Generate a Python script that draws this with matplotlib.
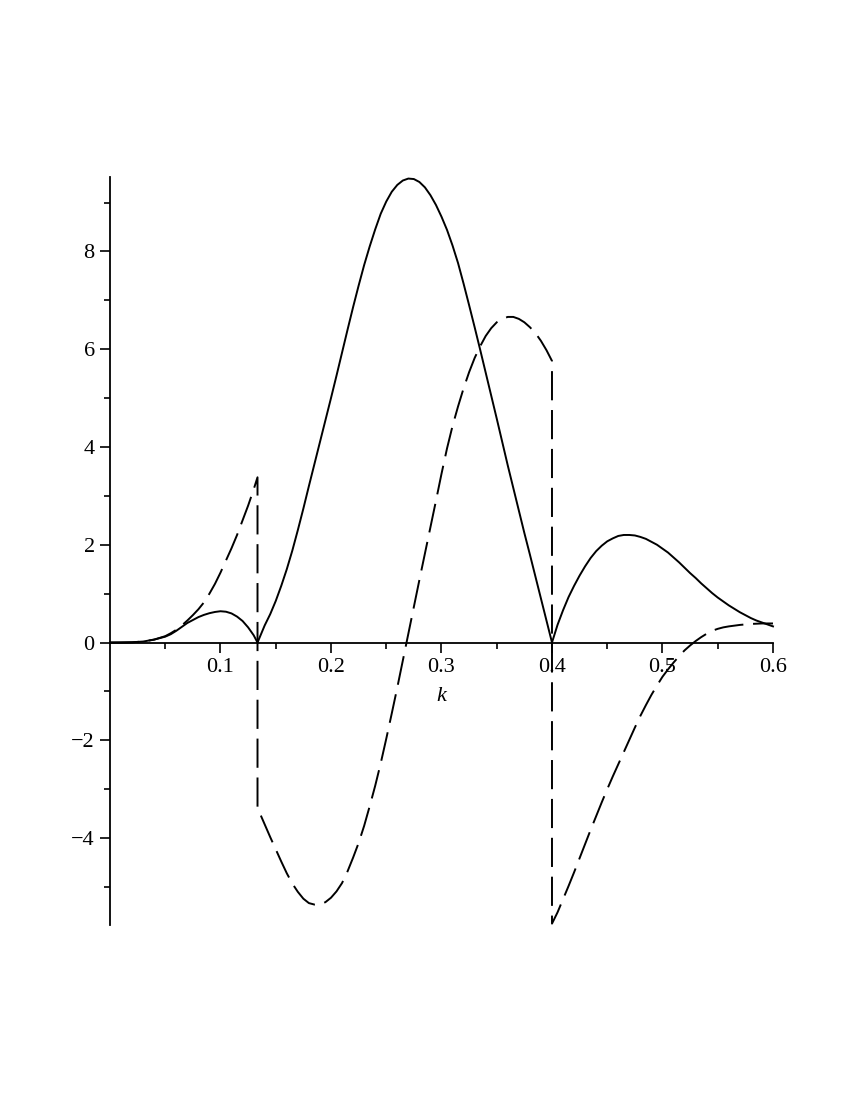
import matplotlib
matplotlib.use("Agg")
import matplotlib.pyplot as plt

plt.rcParams['font.family'] = ['Liberation Serif', 'DejaVu Serif']

# solid curve
k_solid = [0, 0.01, 0.02, 0.03, 0.04, 0.05, 0.055, 0.06, 0.065, 0.07, 0.075, 0.08, 0.085,
           0.09, 0.095, 0.10, 0.105, 0.11, 0.115, 0.12, 0.125, 0.13, 0.1335,
           0.135, 0.14, 0.145, 0.15, 0.155, 0.16, 0.165, 0.17, 0.175, 0.18, 0.185, 0.19,
           0.195, 0.20, 0.205, 0.21, 0.215, 0.22, 0.225, 0.23, 0.235, 0.24, 0.245, 0.25,
           0.255, 0.26, 0.265, 0.27, 0.275, 0.28, 0.285, 0.29, 0.295, 0.30, 0.305, 0.31,
           0.315, 0.32, 0.325, 0.33, 0.335, 0.34, 0.345, 0.35, 0.355, 0.36, 0.365, 0.37,
           0.375, 0.38, 0.385, 0.39, 0.395, 0.40,
           0.405, 0.41, 0.415, 0.42, 0.425, 0.43, 0.435, 0.44, 0.445, 0.45, 0.455, 0.46,
           0.465, 0.47, 0.475, 0.48, 0.485, 0.49, 0.495, 0.50, 0.505, 0.51, 0.515, 0.52,
           0.525, 0.53, 0.535, 0.54, 0.545, 0.55, 0.555, 0.56, 0.565, 0.57, 0.575, 0.58,
           0.585, 0.59, 0.595, 0.60]
v_solid = [0, 0.0, 0.005, 0.02, 0.06, 0.12, 0.17, 0.24, 0.32, 0.40, 0.46, 0.52, 0.565,
           0.60, 0.625, 0.64, 0.63, 0.595, 0.53, 0.44, 0.31, 0.15, 0,
           0.08, 0.35, 0.58, 0.85, 1.16, 1.5, 1.88, 2.3, 2.74, 3.2, 3.65, 4.1,
           4.55, 5.0, 5.46, 5.93, 6.4, 6.86, 7.3, 7.72, 8.1, 8.45, 8.77, 9.02,
           9.22, 9.36, 9.45, 9.49, 9.48, 9.42, 9.31, 9.15, 8.95, 8.71, 8.44, 8.12,
           7.76, 7.34, 6.9, 6.45, 5.99, 5.52, 5.05, 4.58, 4.1, 3.62, 3.16, 2.7,
           2.24, 1.8, 1.35, 0.9, 0.45, 0,
           0.36, 0.66, 0.93, 1.16, 1.37, 1.56, 1.73, 1.87, 1.98, 2.07, 2.13, 2.18,
           2.2, 2.2, 2.19, 2.16, 2.12, 2.06, 2.0, 1.92, 1.84, 1.74, 1.64, 1.53,
           1.42, 1.32, 1.21, 1.11, 1.01, 0.92, 0.84, 0.76, 0.69, 0.62, 0.56, 0.5,
           0.45, 0.41, 0.37, 0.33]

# dashed curve, jumps at k=0.1335 and k=0.4
k_dash = [0, 0.02, 0.03, 0.04, 0.05, 0.055, 0.06, 0.065, 0.07, 0.075, 0.08, 0.085, 0.09,
          0.095, 0.10, 0.105, 0.11, 0.115, 0.12, 0.125, 0.13, 0.1335,
          0.1335, 0.135, 0.14, 0.145, 0.15, 0.155, 0.16, 0.165, 0.17, 0.175, 0.18, 0.185,
          0.19, 0.195, 0.20, 0.205, 0.21, 0.215, 0.22, 0.225, 0.23, 0.235, 0.24, 0.245,
          0.25, 0.255, 0.26, 0.265, 0.27, 0.275, 0.28, 0.285, 0.29, 0.295, 0.30, 0.305,
          0.31, 0.315, 0.32, 0.325, 0.33, 0.335, 0.34, 0.345, 0.35, 0.355, 0.36, 0.365,
          0.37, 0.375, 0.38, 0.385, 0.39, 0.395, 0.40,
          0.40, 0.405, 0.41, 0.415, 0.42, 0.425, 0.43, 0.435, 0.44, 0.445, 0.45, 0.455,
          0.46, 0.465, 0.47, 0.475, 0.48, 0.485, 0.49, 0.495, 0.50, 0.505, 0.51, 0.515,
          0.52, 0.525, 0.53, 0.535, 0.54, 0.545, 0.55, 0.555, 0.56, 0.57, 0.58, 0.59, 0.60]
v_dash = [0, 0.005, 0.02, 0.06, 0.13, 0.19, 0.26, 0.35, 0.45, 0.56, 0.68, 0.82, 1.0,
          1.2, 1.43, 1.68, 1.93, 2.2, 2.5, 2.8, 3.13, 3.38,
          -3.4, -3.46, -3.72, -3.98, -4.23, -4.48, -4.72, -4.93, -5.1, -5.24, -5.33, -5.36,
          -5.36, -5.31, -5.22, -5.09, -4.92, -4.68, -4.4, -4.1, -3.75, -3.35, -2.93, -2.47,
          -1.97, -1.45, -0.92, -0.37, 0.18, 0.73, 1.28, 1.82, 2.36, 2.9, 3.45, 3.97,
          4.43, 4.83, 5.2, 5.53, 5.82, 6.06, 6.27, 6.43, 6.55, 6.62, 6.66, 6.66,
          6.62, 6.55, 6.45, 6.33, 6.17, 5.98, 5.76,
          -5.75, -5.52, -5.25, -4.98, -4.7, -4.41, -4.12, -3.83, -3.55, -3.27, -3.0, -2.74,
          -2.49, -2.24, -1.99, -1.74, -1.5, -1.28, -1.07, -0.88, -0.7, -0.55, -0.41, -0.28,
          -0.16, -0.06, 0.03, 0.11, 0.18, 0.24, 0.28, 0.31, 0.33, 0.36, 0.38, 0.39, 0.39]

xticks = [0.1, 0.2, 0.3, 0.4, 0.5, 0.6]
yticks = [-4, -2, 0, 2, 4, 6, 8]
ylabels = ['\u22124', '\u22122', '0', '2', '4', '6', '8']

fig = plt.figure(figsize=(8.5, 11), dpi=100)
ax = fig.add_axes([0.1294, 0.159, 0.78, 0.68])

ax.plot(k_solid, v_solid, color='black', lw=1.4, clip_on=False)
ax.plot(k_dash, v_dash, color='black', lw=1.4, dashes=(15, 5), clip_on=False)

ax.set_xlim(0, 0.6)
ax.set_ylim(-5.78, 9.52)

for s in ['top', 'right']:
    ax.spines[s].set_visible(False)
ax.spines['left'].set_position(('data', 0))
ax.spines['bottom'].set_position(('data', 0))
ax.spines['left'].set_linewidth(1.3)
ax.spines['bottom'].set_linewidth(1.3)

ax.set_xticks(xticks)
ax.set_xticklabels([str(t) for t in xticks])
ax.set_xticks([0.05, 0.15, 0.25, 0.35, 0.45, 0.55], minor=True)
ax.set_yticks(yticks)
ax.set_yticklabels(ylabels)
ax.set_yticks([-5, -3, -1, 1, 3, 5, 7, 9], minor=True)
ax.tick_params(which='major', direction='out', length=7, width=1.2, labelsize=16, pad=4)
ax.tick_params(which='minor', direction='out', length=4, width=1.2)

ax.set_xlabel('k', fontstyle='italic', fontsize=16)
ax.xaxis.set_label_coords(0.5, 0.318)
ax.xaxis.label.set_verticalalignment('top')

fig.savefig('out.png', dpi=100)
